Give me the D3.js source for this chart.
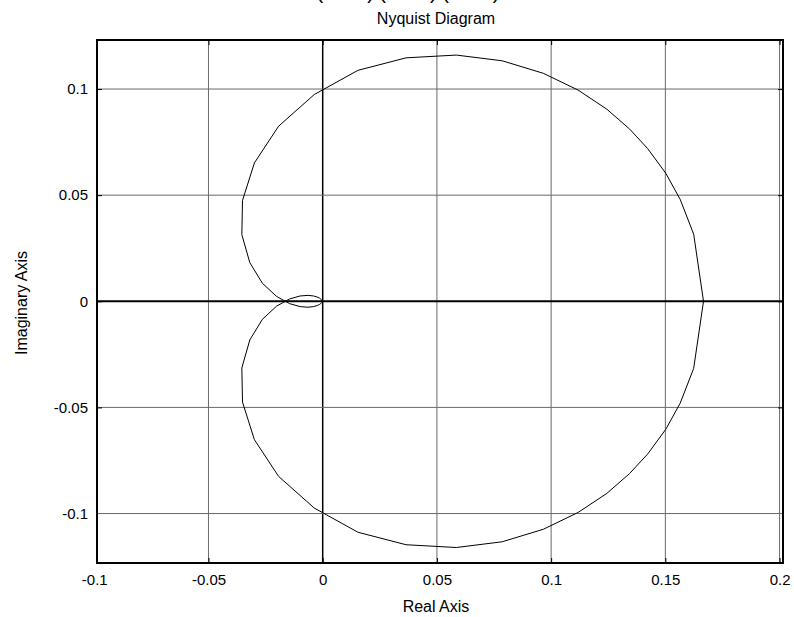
<!DOCTYPE html>
<html>
<head>
<meta charset="utf-8">
<script src="https://cdn.jsdelivr.net/npm/d3@7"></script>
<style>
body { margin: 0; background: #fff; }
text { font-family: "Liberation Sans", Arial, sans-serif; fill: #000; }
</style>
</head>
<body>
<script>
// Nyquist curve, positive frequency branch
const re = [0.1667, 0.1624, 0.1565, 0.1502, 0.1423, 0.1344, 0.1244, 0.1118, 0.0966, 0.0786,
  0.0585, 0.0365, 0.0154, -0.0037, -0.0193, -0.0299, -0.0351, -0.0354, -0.0319, -0.0264,
  -0.0202, -0.0145, -0.0099, -0.0064, -0.0040, -0.0024, -0.0014, -0.0008, -0.0005, -0.0003, -0.0001, 0];
const imLower = [0, -0.0316, -0.0480, -0.0603, -0.0719, -0.0811, -0.0905, -0.0995, -0.1074, -0.1133,
  -0.1160, -0.1147, -0.1088, -0.0974, -0.0825, -0.0652, -0.0475, -0.0314, -0.0182, -0.0085,
  -0.0023, 0.0011, 0.0025, 0.0028, 0.0025, 0.0020, 0.0015, 0.0010, 0.0007, 0.0005, 0.0003, 0];
// negative frequency branch
const imUpper = [0, 0.0316, 0.0480, 0.0603, 0.0719, 0.0811, 0.0905, 0.0995, 0.1074, 0.1133,
  0.1160, 0.1147, 0.1088, 0.0974, 0.0825, 0.0652, 0.0475, 0.0314, 0.0182, 0.0085,
  0.0023, -0.0011, -0.0025, -0.0028, -0.0025, -0.0020, -0.0015, -0.0010, -0.0007, -0.0005, -0.0003, 0];

const xTicks = [-0.1, -0.05, 0, 0.05, 0.1, 0.15, 0.2];
const xTickLabels = ["-0.1", "-0.05", "0", "0.05", "0.1", "0.15", "0.2"];
const yTicks = [-0.1, -0.05, 0, 0.05, 0.1];
const yTickLabels = ["-0.1", "-0.05", "0", "0.05", "0.1"];
const xDomain = [-0.0988, 0.2015];
const yDomain = [-0.1233, 0.1231];

const width = 794
const height = 617
const m = { left: 97, right: 783, top: 40, bottom: 563 };

let svg = d3.select("body")
    .append("svg")
    .attr("width", width)
    .attr("height", height);

svg.append("rect").attr("width", width).attr("height", height).attr("fill", "#fff");

let x = d3.scaleLinear().domain(xDomain).range([m.left, m.right]);
let y = d3.scaleLinear().domain(yDomain).range([m.bottom, m.top]);

// grid
let grid = svg.append("g");
grid.selectAll("line.gx")
    .data(xTicks.filter(d => x(d) > m.left && x(d) < m.right))
    .enter().append("line")
    .attr("x1", d => x(d)).attr("x2", d => x(d))
    .attr("y1", m.top).attr("y2", m.bottom)
    .attr("stroke", d => d === 0 ? "#000" : "#6a6a6a")
    .attr("stroke-width", d => d === 0 ? 1.5 : 1);
grid.selectAll("line.gy")
    .data(yTicks)
    .enter().append("line")
    .attr("y1", d => y(d)).attr("y2", d => y(d))
    .attr("x1", m.left).attr("x2", m.right)
    .attr("stroke", d => d === 0 ? "#000" : "#6a6a6a")
    .attr("stroke-width", d => d === 0 ? 2 : 1);

// curve
let line = d3.line().x(d => x(d[0])).y(d => y(d[1]));
svg.append("path")
    .datum(re.map((r, i) => [r, imLower[i]]))
    .attr("fill", "none").attr("stroke", "#000").attr("stroke-width", 1)
    .attr("d", line);
svg.append("path")
    .datum(re.map((r, i) => [r, imUpper[i]]))
    .attr("fill", "none").attr("stroke", "#000").attr("stroke-width", 1)
    .attr("d", line);

// axes (ticks inward)
svg.append("g")
    .attr("transform", `translate(0,${m.bottom})`)
    .call(d3.axisBottom(x).tickValues(xTicks).tickSizeInner(-5).tickSizeOuter(0)
        .tickPadding(11).tickFormat((d, i) => xTickLabels[i]));
svg.append("g")
    .attr("transform", `translate(${m.left},0)`)
    .call(d3.axisLeft(y).tickValues(yTicks).tickSizeInner(-5).tickSizeOuter(0)
        .tickPadding(9).tickFormat((d, i) => yTickLabels[i]));
svg.append("g")
    .attr("class", "xt")
    .attr("transform", `translate(0,${m.top})`)
    .call(d3.axisTop(x).tickValues(xTicks).tickSizeInner(-5).tickSizeOuter(0).tickFormat(""));
svg.append("g")
    .attr("transform", `translate(${m.right},0)`)
    .call(d3.axisRight(y).tickValues(yTicks).tickSizeInner(-5).tickSizeOuter(0).tickFormat(""));

svg.selectAll(".domain").remove();
svg.selectAll(".tick line").attr("stroke", "#000");
// the -0.1 tick sits just outside the box, keep only its label
svg.selectAll(".tick").filter(d => x(d) < m.left || x(d) > m.right).select("line").remove();
svg.selectAll(".tick text")
    .style("font-family", '"Liberation Sans", Arial, sans-serif')
    .style("font-size", "15px").attr("fill", "#000");

// box
svg.append("rect")
    .attr("x", m.left).attr("y", m.top)
    .attr("width", m.right - m.left).attr("height", m.bottom - m.top)
    .attr("fill", "none").attr("stroke", "#000").attr("stroke-width", 2);

// texts
svg.append("text")
    .attr("x", 408).attr("y", -1.5)
    .attr("text-anchor", "middle").style("font-size", "20px")
    .text("(s + 1) (s + 2) (s + 3)");
svg.append("text")
    .attr("x", 436).attr("y", 24)
    .attr("text-anchor", "middle").style("font-size", "16px")
    .text("Nyquist Diagram");
svg.append("text")
    .attr("x", 436).attr("y", 612)
    .attr("text-anchor", "middle").style("font-size", "16px")
    .text("Real Axis");
svg.append("text")
    .attr("transform", "translate(27,303) rotate(-90)")
    .attr("text-anchor", "middle").style("font-size", "16px")
    .text("Imaginary Axis");
</script>
</body>
</html>
